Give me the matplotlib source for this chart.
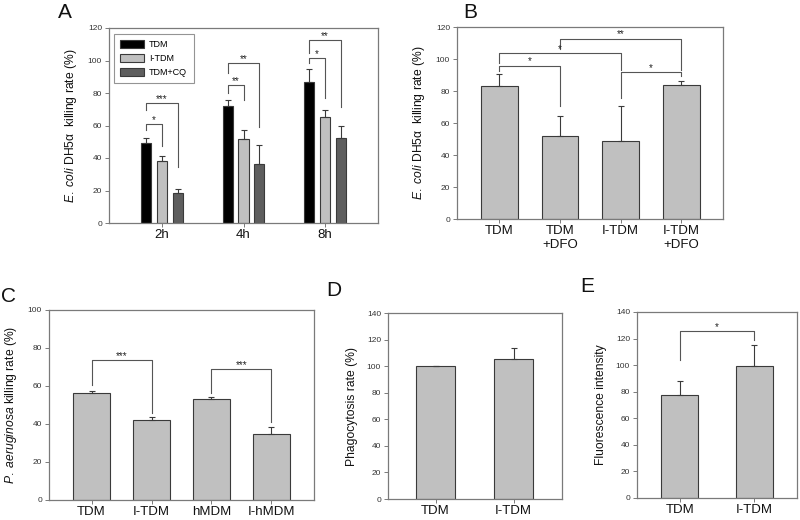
import matplotlib
matplotlib.use("Agg")
import matplotlib.pyplot as plt
import numpy as np

plt.rcParams['font.family'] = ['Liberation Sans', 'DejaVu Sans']
plt.rcParams['mathtext.fontset'] = 'custom'
plt.rcParams['mathtext.rm'] = 'Liberation Sans'
plt.rcParams['mathtext.it'] = 'Liberation Sans:italic'

# Panel A data
a_groups = ["2h", "4h", "8h"]
a_series = ["TDM", "I-TDM", "TDM+CQ"]
a_tdm = [49.5, 72, 87]
a_tdm_err = [2.8, 4, 8]
a_itdm = [38, 51.5, 65.5]
a_itdm_err = [3.5, 6, 4]
a_cq = [18.5, 36.5, 52.5]
a_cq_err = [2.5, 11.5, 7.5]
# (group, series1, series2, top, left foot, right foot, label)
a_sig = [(0, 0, 1, 61, 57, 47.5, "*"), (0, 0, 2, 74, 69.5, 34.5, "***"),
         (1, 0, 1, 85, 80, 75.5, "**"), (1, 0, 2, 98.5, 92.5, 59, "**"),
         (2, 0, 1, 101.5, 98.5, 77, "*"), (2, 0, 2, 112.5, 104.5, 71.5, "**")]

# Panel B data
b_labels = ["TDM", "TDM\n+DFO", "I-TDM", "I-TDM\n+DFO"]
b_vals = [83, 52, 48.5, 83.5]
b_err = [7.8, 12.5, 22, 2.8]
b_sig = [(0, 1, 95.8, 92.3, 70.8, "*"), (0, 2, 103.7, 97.5, 93.3, "*"),
         (1, 3, 112.7, 106.2, 93.3, "**"), (2, 3, 91.7, 75.6, 89.6, "*")]

# Panel C data
c_labels = ["TDM", "I-TDM", "hMDM", "I-hMDM"]
c_vals = [56.3, 42, 53.2, 34.8]
c_err = [1, 1.6, 0.9, 3.6]
c_sig = [(0, 1, 73.7, 60.5, 45.6, "***"), (2, 3, 69, 56.5, 41.2, "***")]

# Panel D data
d_labels = ["TDM", "I-TDM"]
d_vals = [100, 105.3]
d_err = [0, 8.4]

# Panel E data
e_labels = ["TDM", "I-TDM"]
e_vals = [77.5, 99]
e_err = [10.5, 16]
e_sig = [(0, 1, 125.4, 103.6, 118.7, "*")]

W, H = 800, 520
fig = plt.figure(figsize=(8, 5.2), dpi=100)

frame_col = "#7a7a7a"
edge_col = "#3a3a3a"
line_col = "#555555"
ylab_size = 8.7


def add_panel(l, t, r, b):
    ax = fig.add_axes([l / W, 1 - b / H, (r - l) / W, (b - t) / H])
    for s in ax.spines.values():
        s.set_color(frame_col)
        s.set_linewidth(0.9)
    ax.tick_params(axis="y", direction="out", length=3, width=0.7,
                   labelsize=6, colors=frame_col, labelcolor="#333333", pad=2)
    ax.tick_params(axis="x", direction="out", length=3, width=0.7,
                   labelsize=9.5, colors=frame_col, labelcolor="#111111", pad=1.5)
    return ax


def bracket(ax, x1, x2, top, f1, f2, label, ymax):
    ax.plot([x1, x1, x2, x2], [f1, top, top, f2], color=line_col, lw=0.8)
    ax.text((x1 + x2) / 2, top + ymax * 0.006, label, ha="center", va="baseline",
            fontsize=7, color="#222222")


def single_bars(ax, vals, err, labels, width, xlim, ymax, ylabel):
    x = np.arange(len(vals))
    ax.bar(x, vals, width=width, color="#c0c0c0", edgecolor=edge_col, linewidth=0.8)
    up = np.array(err)
    ax.errorbar(x, vals, yerr=[np.zeros_like(up), up], fmt="none", ecolor=edge_col,
                elinewidth=0.8, capsize=2.5, capthick=0.8)
    ax.set_xticks(x)
    ax.set_xticklabels(labels)
    ax.set_xlim(*xlim)
    ax.set_ylim(0, ymax)
    ax.set_yticks(np.arange(0, ymax + 1, 20))
    ax.set_ylabel(ylabel, fontsize=ylab_size, color="#111111", labelpad=6)
    return x


# Panel A
axA = add_panel(109, 28, 378, 223)
xa = np.arange(len(a_groups))
off = 0.196
wa = 0.123
cols = ["#000000", "#c0c0c0", "#5e5e5e"]
a_vals = [a_tdm, a_itdm, a_cq]
a_errs = [a_tdm_err, a_itdm_err, a_cq_err]
for i in range(3):
    xs = xa + (i - 1) * off
    axA.bar(xs, a_vals[i], width=wa, color=cols[i], edgecolor=edge_col,
            linewidth=0.8, label=a_series[i])
    up = np.array(a_errs[i])
    axA.errorbar(xs, a_vals[i], yerr=[np.zeros_like(up), up], fmt="none",
                 ecolor=edge_col, elinewidth=0.8, capsize=2.5, capthick=0.8)
for g, s1, s2, top, f1, f2, lab in a_sig:
    bracket(axA, g + (s1 - 1) * off, g + (s2 - 1) * off, top, f1, f2, lab, 120)
axA.set_xticks(xa)
axA.set_xticklabels(a_groups)
axA.set_xlim(-0.65, 2.65)
axA.set_ylim(0, 120)
axA.set_yticks(np.arange(0, 121, 20))
axA.set_ylabel(r"$\it{E.\ coli}$ DH5α  killing rate (%)", fontsize=ylab_size,
               color="#111111", labelpad=6)
leg = axA.legend(loc="upper left", bbox_to_anchor=(0.012, 0.98), fontsize=6.5,
                 frameon=True, fancybox=False, handlelength=2.6, handleheight=0.9,
                 borderpad=0.7, labelspacing=0.55, handletextpad=0.6,
                 borderaxespad=0.2)
leg.get_frame().set_edgecolor(frame_col)
leg.get_frame().set_linewidth(0.8)

# Panel B
axB = add_panel(457, 27, 723, 219)
single_bars(axB, b_vals, b_err, b_labels, 0.61, (-0.7, 3.69), 120, "")
axB.set_ylabel(r"$\it{E.\ coli}$ DH5α  killing rate (%)", fontsize=ylab_size,
               color="#111111", labelpad=6)
for s1, s2, top, f1, f2, lab in b_sig:
    bracket(axB, s1, s2, top, f1, f2, lab, 120)

# Panel C
axC = add_panel(49, 310, 314, 500)
single_bars(axC, c_vals, c_err, c_labels, 0.62, (-0.71, 3.71), 100, "")
axC.set_ylabel(r"$\it{P.\ aeruginosa}$ killing rate (%)", fontsize=ylab_size,
               color="#111111", labelpad=6)
for s1, s2, top, f1, f2, lab in c_sig:
    bracket(axC, s1, s2, top, f1, f2, lab, 100)

# Panel D
axD = add_panel(388, 313, 562, 499)
single_bars(axD, d_vals, d_err, d_labels, 0.5, (-0.61, 1.62), 140,
            "Phagocytosis rate (%)")

# Panel E
axE = add_panel(637, 312, 797, 498)
single_bars(axE, e_vals, e_err, e_labels, 0.5, (-0.58, 1.58), 140,
            "Fluorescence intensity")
for s1, s2, top, f1, f2, lab in e_sig:
    bracket(axE, s1, s2, top, f1, f2, lab, 140)

# panel letters
for lab, px, py in [("A", 65, 13), ("B", 470, 13), ("C", 9, 297),
                    ("D", 334, 291), ("E", 587, 286)]:
    fig.text(px / W, 1 - py / H, lab, fontsize=15, ha="center", va="center",
             color="#111111")

fig.savefig("out.png", dpi=100)
